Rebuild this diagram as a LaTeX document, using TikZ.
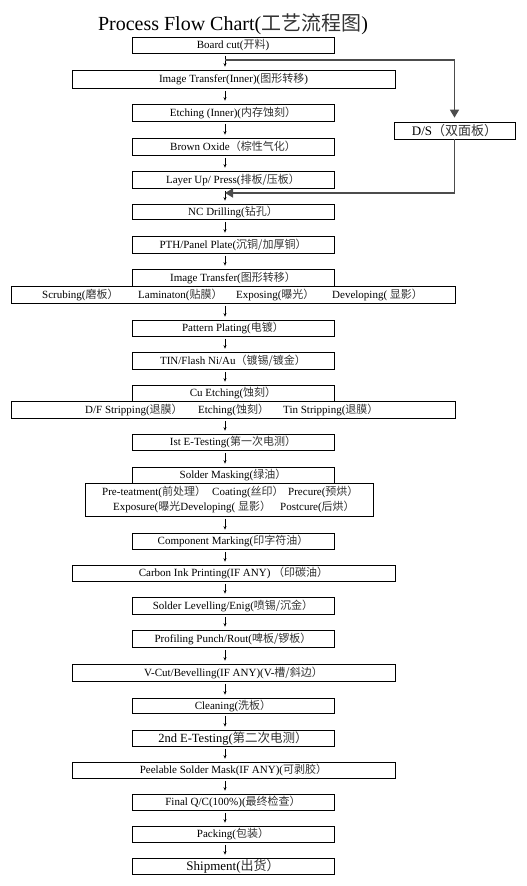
\documentclass[tikz,border=0pt]{standalone}
\usepackage{fontspec}
\setmainfont{Liberation Serif}
\newfontfamily\cjkfont{Noto Sans CJK SC}
\usetikzlibrary{arrows.meta}
\newcommand\zh[1]{{\cjkfont\color{black!80}#1}}
\begin{document}
\begin{tikzpicture}[x=1pt,y=-1pt,
  box/.style={draw, line width=0.7pt, inner sep=0pt, minimum height=16.5pt,
    font=\fontsize{11}{12}\selectfont},
  std/.style={box, minimum width=202pt},
  wide/.style={box, minimum width=323pt},
  full/.style={box, minimum width=444pt},
  item/.style={anchor=west, inner sep=0pt, font=\fontsize{11}{12}\selectfont},
  flow/.style={-{Stealth[length=3.5pt,width=3pt]}, line width=0.5pt,
    shorten <=2.5pt, shorten >=3pt},
  dsline/.style={line width=1.5pt, draw=black!70,
    -{Triangle[length=8pt,width=9pt]}}]
\useasboundingbox (0,0) rectangle (527,886);
\node[anchor=base, font=\fontsize{20}{22}\selectfont] (title) at (233,30)
  {Process Flow Chart(\zh{工艺流程图})};
\node[std, minimum height=16pt] (bc) at (233,45) {Board cut(\zh{开料})};
\node[wide, minimum height=18pt] (it) at (233.5,79) {Image Transfer(Inner)(\zh{图形转移})};
\node[std, minimum height=17pt] (et) at (233,112.5) {Etching (Inner)(\zh{内存蚀刻）}};
\node[std, minimum height=17pt] (bo) at (233,146.5) {Brown Oxide\zh{（棕性气化）}};
\node[std, minimum height=17pt] (lu) at (233,179.5) {Layer Up/ Press(\zh{排板/压板）}};
\node[box, minimum width=121pt, minimum height=17pt, font=\fontsize{13}{14}\selectfont]
  (ds) at (454.5,130.5) {D/S\zh{（双面板）}};
\node[std, minimum height=15pt] (nc) at (233,211.5) {NC Drilling(\zh{钻孔）}};
\node[std, minimum height=17pt] (pth) at (233,244.5) {PTH/Panel Plate(\zh{沉铜/加厚铜）}};
\node[std, minimum height=17pt] (it2) at (233,277.5) {Image Transfer(\zh{图形转移）}};
\node[full, minimum height=17pt] (it2s) at (233,294.5) {};
\node[item] (s1) at (42,294.5) {Scrubing(\zh{磨板）}};
\node[item] (s2) at (138,294.5) {Laminaton(\zh{贴膜）}};
\node[item] (s3) at (236,294.5) {Exposing(\zh{曝光）}};
\node[item] (s4) at (332,294.5) {Developing( \zh{显影）}};
\node[std, minimum height=16pt] (pp) at (233,328) {Pattern Plating(\zh{电镀）}};
\node[std, minimum height=17pt] (tin) at (233,360.5) {TIN/Flash Ni/Au\zh{（镀锡/镀金）}};
\node[std, minimum height=16pt] (cu) at (233,393) {Cu Etching(\zh{蚀刻）}};
\node[full, minimum height=17pt] (cus) at (233,409.5) {};
\node[item] (c1) at (85,409.5) {D/F Stripping(\zh{退膜）}};
\node[item] (c2) at (198,409.5) {Etching(\zh{蚀刻）}};
\node[item] (c3) at (283,409.5) {Tin Stripping(\zh{退膜）}};
\node[std, minimum height=16pt] (e1) at (233,442) {Ist E-Testing(\zh{第一次电测）}};
\node[std, minimum height=16pt] (sm) at (233,475) {Solder Masking(\zh{绿油）}};
\node[box, minimum width=288pt, minimum height=33pt] (sms) at (229,499.5) {};
\node[item] (m1) at (102,492) {Pre-teatment(\zh{前处理）}};
\node[item] (m2) at (212,492) {Coating(\zh{丝印）}};
\node[item] (m3) at (288,492) {Precure(\zh{预烘）}};
\node[item] (m4) at (113,506.5) {Exposure(\zh{曝光}Developing( \zh{显影）}};
\node[item] (m5) at (280,506.5) {Postcure(\zh{后烘）}};
\node[std, minimum height=16pt] (cm) at (233,541) {Component Marking(\zh{印字符油）}};
\node[wide, minimum height=16pt] (ci) at (233.5,573) {Carbon Ink Printing(IF ANY) \zh{（印碳油）}};
\node[std, minimum height=17pt] (sl) at (233,605.5) {Solder Levelling/Enig(\zh{喷锡/沉金）}};
\node[std, minimum height=17pt] (pf) at (233,638.5) {Profiling Punch/Rout(\zh{啤板/锣板）}};
\node[wide, minimum height=17pt] (vc) at (233.5,672.5) {V-Cut/Bevelling(IF ANY)(V-\zh{槽/斜边）}};
\node[std, minimum height=15pt] (cl) at (233,705.5) {Cleaning(\zh{洗板）}};
\node[std, minimum height=16pt, font=\fontsize{12.5}{13}\selectfont] (e2) at (233,738) {2nd E-Testing(\zh{第二次电测）}};
\node[wide, minimum height=16pt] (pe) at (233.5,770) {Peelable Solder Mask(IF ANY)(\zh{可剥胶）}};
\node[std, minimum height=16pt] (fq) at (233,802) {Final Q/C(100\%)(\zh{最终检查）}};
\node[std, minimum height=16pt] (pk) at (233,834) {Packing(\zh{包装）}};
\node[std, minimum height=16pt, font=\fontsize{13}{14}\selectfont] (sh) at (233,866) {Shipment(\zh{出货）}};
\coordinate (ax) at (225,0);
\foreach \a/\b in {bc/it, it/et, et/bo, bo/lu, lu/nc, nc/pth, pth/it2, it2s/pp,
  pp/tin, tin/cu, cus/e1, e1/sm, sms/cm, cm/ci, ci/sl, sl/pf, pf/vc, vc/cl,
  cl/e2, e2/pe, pe/fq, fq/pk, pk/sh}
  \draw[flow] (\a.south -| ax) -- (\b.north -| ax);
\coordinate (split) at (225,60);
\coordinate (join) at (225,193);
\draw[dsline, shorten >=4pt] (split) -| (ds.north);
\draw[dsline] (ds.south) |- (join);
\end{tikzpicture}
\end{document}
